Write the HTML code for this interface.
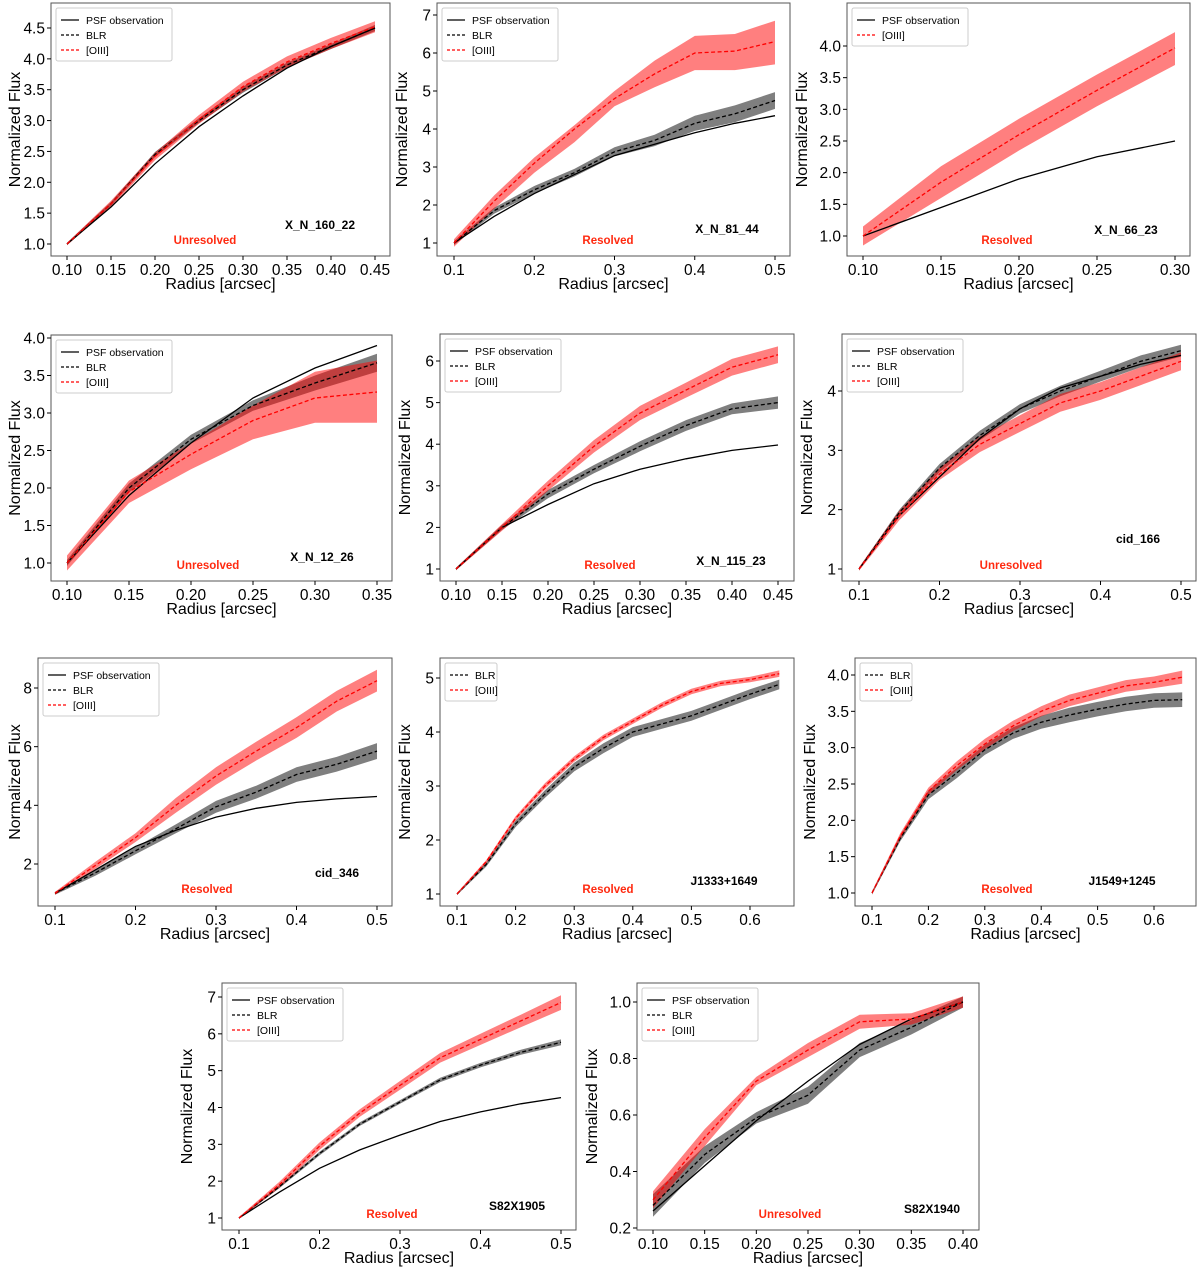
<!DOCTYPE html>
<html><head><meta charset="utf-8"><style>
html,body{margin:0;padding:0;background:#fff;}
svg{display:block;font-family:"Liberation Sans","DejaVu Sans",sans-serif;}
</style></head><body>
<svg id="fig" width="1200" height="1274" viewBox="0 0 1200 1274" xmlns="http://www.w3.org/2000/svg"></svg>
<script>
// ---------- data ----------
const p1x=[0.10,0.15,0.20,0.25,0.30,0.35,0.40,0.45];
const p1psf=[1,1.6,2.3,2.9,3.4,3.85,4.2,4.5];
const p1blr=[1,1.65,2.45,3.0,3.5,3.9,4.2,4.5];
const p1blrErr=[0.02,0.03,0.04,0.04,0.05,0.04,0.04,0.05];
const p1oiii=[1,1.65,2.42,3.02,3.55,3.95,4.25,4.52];
const p1oiiiErr=[0.02,0.05,0.06,0.07,0.08,0.09,0.09,0.09];

const p2x=[0.10,0.15,0.20,0.25,0.30,0.35,0.40,0.45,0.50];
const p2psf=[1,1.7,2.3,2.8,3.3,3.6,3.9,4.15,4.35];
const p2blr=[1,1.85,2.4,2.85,3.4,3.7,4.15,4.4,4.75];
const p2blrErr=[0.05,0.08,0.1,0.1,0.12,0.15,0.2,0.22,0.22];
const p2oiii=[1,2.1,3.1,4.0,4.8,5.45,6.0,6.05,6.3];
const p2oiiiLo=[0.9,1.9,2.85,3.65,4.6,5.1,5.55,5.55,5.7];
const p2oiiiHi=[1.1,2.25,3.25,4.1,5.0,5.8,6.45,6.5,6.85];

const p3x=[0.10,0.15,0.20,0.25,0.30];
const p3psf=[1,1.45,1.9,2.25,2.5];
const p3oiii=[1,1.85,2.6,3.3,3.97];
const p3oiiiLo=[0.85,1.6,2.35,3.05,3.7];
const p3oiiiHi=[1.15,2.1,2.85,3.55,4.22];

const p4x=[0.10,0.15,0.20,0.25,0.30,0.35];
const p4psf=[1,1.9,2.6,3.2,3.6,3.9];
const p4blr=[1,2.0,2.65,3.1,3.4,3.67];
const p4blrErr=[0.04,0.06,0.06,0.07,0.1,0.12];
const p4oiii=[1,1.95,2.45,2.9,3.2,3.28];
const p4oiiiLo=[0.9,1.8,2.25,2.65,2.87,2.87];
const p4oiiiHi=[1.1,2.1,2.6,3.1,3.55,3.7];

const p5x=[0.10,0.15,0.20,0.25,0.30,0.35,0.40,0.45];
const p5psf=[1,2.0,2.55,3.05,3.4,3.65,3.85,3.98];
const p5blr=[1,2.0,2.8,3.4,3.95,4.45,4.85,5.0];
const p5blrErr=[0.03,0.06,0.1,0.1,0.12,0.13,0.13,0.15];
const p5oiii=[1,2.0,3.0,3.95,4.75,5.3,5.85,6.15];
const p5oiiiErr=[0.03,0.08,0.12,0.15,0.17,0.18,0.2,0.2];

const p6x=[0.10,0.15,0.20,0.25,0.30,0.35,0.40,0.45,0.50];
const p6psf=[1,1.9,2.55,3.2,3.7,4.05,4.25,4.45,4.6];
const p6blr=[1,1.95,2.7,3.25,3.7,4.0,4.25,4.5,4.68];
const p6blrErr=[0.02,0.05,0.07,0.08,0.08,0.09,0.09,0.1,0.1];
const p6oiii=[1,1.9,2.6,3.1,3.45,3.8,4.0,4.25,4.5];
const p6oiiiErr=[0.03,0.08,0.1,0.13,0.14,0.15,0.15,0.15,0.15];

const p7x=[0.10,0.15,0.20,0.25,0.30,0.35,0.40,0.45,0.50];
const p7psf=[1,1.8,2.6,3.15,3.6,3.9,4.1,4.22,4.3];
const p7blr=[1,1.7,2.45,3.2,3.95,4.45,5.05,5.4,5.85];
const p7blrErr=[0.05,0.1,0.12,0.15,0.2,0.22,0.25,0.25,0.27];
const p7oiii=[1,1.95,2.9,4.0,5.0,5.85,6.65,7.55,8.25];
const p7oiiiErr=[0.05,0.12,0.15,0.25,0.3,0.32,0.35,0.35,0.37];

const p8x=[0.10,0.15,0.20,0.25,0.30,0.35,0.40,0.45,0.50,0.55,0.60,0.65];
const p8blr=[1,1.55,2.3,2.85,3.35,3.7,4.0,4.15,4.3,4.5,4.7,4.88];
const p8blrErr=[0.02,0.04,0.06,0.07,0.08,0.09,0.09,0.09,0.09,0.09,0.09,0.09];
const p8oiii=[1,1.6,2.4,3.0,3.5,3.9,4.2,4.5,4.75,4.9,4.97,5.08];
const p8oiiiErr=[0.02,0.03,0.04,0.05,0.05,0.05,0.05,0.05,0.05,0.05,0.05,0.06];

const p9x=[0.10,0.15,0.20,0.25,0.30,0.35,0.40,0.45,0.50,0.55,0.60,0.65];
const p9blr=[1,1.75,2.35,2.65,2.97,3.2,3.35,3.45,3.53,3.6,3.65,3.66];
const p9blrErr=[0.02,0.04,0.06,0.07,0.07,0.08,0.09,0.1,0.1,0.1,0.1,0.1];
const p9oiii=[1,1.78,2.4,2.75,3.05,3.3,3.5,3.65,3.75,3.85,3.9,3.97];
const p9oiiiErr=[0.02,0.04,0.05,0.06,0.07,0.07,0.07,0.08,0.08,0.08,0.08,0.09];

const p10x=[0.10,0.15,0.20,0.25,0.30,0.35,0.40,0.45,0.50];
const p10psf=[1,1.7,2.35,2.85,3.25,3.62,3.88,4.1,4.27];
const p10blr=[1,1.85,2.75,3.55,4.15,4.75,5.15,5.5,5.77];
const p10blrErr=[0.02,0.04,0.05,0.05,0.05,0.06,0.06,0.07,0.08];
const p10oiii=[1,1.9,2.95,3.85,4.6,5.35,5.85,6.35,6.85];
const p10oiiiErr=[0.03,0.08,0.1,0.1,0.12,0.13,0.15,0.17,0.2];

const p11x=[0.10,0.15,0.20,0.25,0.30,0.35,0.40];
const p11psf=[0.26,0.42,0.58,0.72,0.85,0.94,1.0];
const p11blr=[0.28,0.46,0.59,0.67,0.83,0.91,1.0];
const p11blrErr=[0.04,0.03,0.02,0.03,0.025,0.025,0.02];
const p11oiii=[0.3,0.52,0.72,0.83,0.93,0.94,1.0];
const p11oiiiErr=[0.03,0.03,0.015,0.025,0.025,0.02,0.02];

// tick labels
const t1x=["0.10","0.15","0.20","0.25","0.30","0.35","0.40","0.45"], t1y=["1.0","1.5","2.0","2.5","3.0","3.5","4.0","4.5"];
const t2x=["0.1","0.2","0.3","0.4","0.5"], t2y=["1","2","3","4","5","6","7"];
const t3x=["0.10","0.15","0.20","0.25","0.30"], t3y=["1.0","1.5","2.0","2.5","3.0","3.5","4.0"];
const t4x=["0.10","0.15","0.20","0.25","0.30","0.35"], t4y=["1.0","1.5","2.0","2.5","3.0","3.5","4.0"];
const t5x=["0.10","0.15","0.20","0.25","0.30","0.35","0.40","0.45"], t5y=["1","2","3","4","5","6"];
const t6x=["0.1","0.2","0.3","0.4","0.5"], t6y=["1","2","3","4"];
const t7x=["0.1","0.2","0.3","0.4","0.5"], t7y=["2","4","6","8"];
const t8x=["0.1","0.2","0.3","0.4","0.5","0.6"], t8y=["1","2","3","4","5"];
const t9x=["0.1","0.2","0.3","0.4","0.5","0.6"], t9y=["1.0","1.5","2.0","2.5","3.0","3.5","4.0"];
const t10x=["0.1","0.2","0.3","0.4","0.5"], t10y=["1","2","3","4","5","6","7"];
const t11x=["0.10","0.15","0.20","0.25","0.30","0.35","0.40"], t11y=["0.2","0.4","0.6","0.8","1.0"];

const NS="http://www.w3.org/2000/svg";
const svg=document.getElementById('fig');
function mk(tag,parent){const e=document.createElementNS(NS,tag);parent.appendChild(e);return e;}

function lo(v,e){return v.map((a,i)=>a-e[i]);}
function hi(v,e){return v.map((a,i)=>a+e[i]);}

const panels=[
 {id:1,box:[51,3,390,256],xa:[0.10,67,0.45,375],ya:[1,244,4.5,28],xs:p1x,psf:p1psf,blr:p1blr,blrLo:lo(p1blr,p1blrErr),blrHi:hi(p1blr,p1blrErr),o:p1oiii,oLo:lo(p1oiii,p1oiiiErr),oHi:hi(p1oiii,p1oiiiErr),tx:t1x,ty:t1y,name:"X_N_160_22",nm:[320,229],st:"Unresolved",sp:[205,244]},
 {id:2,box:[437,3,790,256],xa:[0.1,454,0.5,775],ya:[1,243,7,15],xs:p2x,psf:p2psf,blr:p2blr,blrLo:lo(p2blr,p2blrErr),blrHi:hi(p2blr,p2blrErr),o:p2oiii,oLo:p2oiiiLo,oHi:p2oiiiHi,tx:t2x,ty:t2y,name:"X_N_81_44",nm:[727,233],st:"Resolved",sp:[608,244]},
 {id:3,box:[847,3,1190,256],xa:[0.10,863,0.30,1175],ya:[1,236,4,46],xs:p3x,psf:p3psf,o:p3oiii,oLo:p3oiiiLo,oHi:p3oiiiHi,tx:t3x,ty:t3y,name:"X_N_66_23",nm:[1126,234],st:"Resolved",sp:[1007,244]},
 {id:4,box:[51,335,392,581],xa:[0.10,67,0.35,377],ya:[1,563,4,338],xs:p4x,psf:p4psf,blr:p4blr,blrLo:lo(p4blr,p4blrErr),blrHi:hi(p4blr,p4blrErr),o:p4oiii,oLo:p4oiiiLo,oHi:p4oiiiHi,tx:t4x,ty:t4y,name:"X_N_12_26",nm:[322,561],st:"Unresolved",sp:[208,569]},
 {id:5,box:[440,334,794,581],xa:[0.10,456,0.45,778],ya:[1,569,6,361],xs:p5x,psf:p5psf,blr:p5blr,blrLo:lo(p5blr,p5blrErr),blrHi:hi(p5blr,p5blrErr),o:p5oiii,oLo:lo(p5oiii,p5oiiiErr),oHi:hi(p5oiii,p5oiiiErr),tx:t5x,ty:t5y,name:"X_N_115_23",nm:[731,565],st:"Resolved",sp:[610,569]},
 {id:6,box:[842,334,1196,581],xa:[0.1,859,0.5,1181],ya:[1,569,4,391],xs:p6x,psf:p6psf,blr:p6blr,blrLo:lo(p6blr,p6blrErr),blrHi:hi(p6blr,p6blrErr),o:p6oiii,oLo:lo(p6oiii,p6oiiiErr),oHi:hi(p6oiii,p6oiiiErr),tx:t6x,ty:t6y,name:"cid_166",nm:[1138,543],st:"Unresolved",sp:[1011,569]},
 {id:7,box:[38,658,392,906],xa:[0.1,55,0.5,377],ya:[2,864,8,688],xs:p7x,psf:p7psf,blr:p7blr,blrLo:lo(p7blr,p7blrErr),blrHi:hi(p7blr,p7blrErr),o:p7oiii,oLo:lo(p7oiii,p7oiiiErr),oHi:hi(p7oiii,p7oiiiErr),tx:t7x,ty:t7y,name:"cid_346",nm:[337,877],st:"Resolved",sp:[207,893]},
 {id:8,box:[440,658,794,906],xa:[0.1,457,0.6,750],ya:[1,894,5,678],xs:p8x,blr:p8blr,blrLo:lo(p8blr,p8blrErr),blrHi:hi(p8blr,p8blrErr),o:p8oiii,oLo:lo(p8oiii,p8oiiiErr),oHi:hi(p8oiii,p8oiiiErr),tx:t8x,ty:t8y,name:"J1333+1649",nm:[724,885],st:"Resolved",sp:[608,893]},
 {id:9,box:[855,658,1196,906],xa:[0.1,872,0.6,1154],ya:[1,893,4,675],xs:p9x,blr:p9blr,blrLo:lo(p9blr,p9blrErr),blrHi:hi(p9blr,p9blrErr),o:p9oiii,oLo:lo(p9oiii,p9oiiiErr),oHi:hi(p9oiii,p9oiiiErr),tx:t9x,ty:t9y,name:"J1549+1245",nm:[1122,885],st:"Resolved",sp:[1007,893]},
 {id:10,box:[222,983,576,1230],xa:[0.1,239,0.5,561],ya:[1,1218,7,997],xs:p10x,psf:p10psf,blr:p10blr,blrLo:lo(p10blr,p10blrErr),blrHi:hi(p10blr,p10blrErr),o:p10oiii,oLo:lo(p10oiii,p10oiiiErr),oHi:hi(p10oiii,p10oiiiErr),tx:t10x,ty:t10y,name:"S82X1905",nm:[517,1210],st:"Resolved",sp:[392,1218]},
 {id:11,box:[637,983,979,1230],xa:[0.10,653,0.40,963],ya:[0.2,1228,1.0,1002],xs:p11x,psf:p11psf,blr:p11blr,blrLo:lo(p11blr,p11blrErr),blrHi:hi(p11blr,p11blrErr),o:p11oiii,oLo:lo(p11oiii,p11oiiiErr),oHi:hi(p11oiii,p11oiiiErr),tx:t11x,ty:t11y,name:"S82X1940",nm:[932,1213],st:"Unresolved",sp:[790,1218]}
];

panels.forEach(p=>{
  const g=mk('g',svg);
  
  
  const [L,T,R,B]=p.box;
  const X=v=>p.xa[1]+(v-p.xa[0])*(p.xa[3]-p.xa[1])/(p.xa[2]-p.xa[0]);
  const Y=v=>p.ya[1]+(v-p.ya[0])*(p.ya[3]-p.ya[1])/(p.ya[2]-p.ya[0]);
  const clipId='clip'+p.id;
  const cp=mk('clipPath',g);cp.setAttribute('id',clipId);
  const cr=mk('rect',cp);cr.setAttribute('x',L);cr.setAttribute('y',T);cr.setAttribute('width',R-L);cr.setAttribute('height',B-T);
  const plot=mk('g',g);plot.setAttribute('clip-path','url(#'+clipId+')');
  
  
  function band(loA,hiA,col,name){
    let d='M'+p.xs.map((x,i)=>X(x).toFixed(1)+','+Y(hiA[i]).toFixed(1)).join('L');
    d+='L'+p.xs.map((x,i)=>[X(x),Y(loA[i])]).reverse().map(a=>a[0].toFixed(1)+','+a[1].toFixed(1)).join('L')+'Z';
    const e=mk('path',plot);e.setAttribute('d',d);e.setAttribute('fill',col);e.setAttribute('fill-opacity','0.5');
    
    
  }
  function line(v,col,dash,name){
    const e=mk('polyline',plot);
    e.setAttribute('points',p.xs.map((x,i)=>X(x).toFixed(1)+','+Y(v[i]).toFixed(1)).join(' '));
    e.setAttribute('fill','none');e.setAttribute('stroke',col);e.setAttribute('stroke-width','1.3');
    if(dash)e.setAttribute('stroke-dasharray','4,2.5');
    
    
  }
  if(p.blr) band(p.blrLo,p.blrHi,'#000','blr-band');
  band(p.oLo,p.oHi,'#ff0000','oiii-band');
  if(p.psf) line(p.psf,'#000',false,'psf-line');
  if(p.blr) line(p.blr,'#000',true,'blr-line');
  line(p.o,'#ff0000',true,'oiii-line');
  const fr=mk('rect',g);fr.setAttribute('x',L);fr.setAttribute('y',T);fr.setAttribute('width',R-L);fr.setAttribute('height',B-T);
  fr.setAttribute('fill','none');fr.setAttribute('stroke','#555');fr.setAttribute('stroke-width','1');
  
  
  p.tx.forEach(t=>{const x=X(parseFloat(t));
    const l=mk('line',g);l.setAttribute('x1',x);l.setAttribute('x2',x);l.setAttribute('y1',B);l.setAttribute('y2',B+4);l.setAttribute('stroke','#000');
    const tt=mk('text',g);tt.setAttribute('x',x);tt.setAttribute('y',B+19);tt.setAttribute('text-anchor','middle');tt.setAttribute('font-size','15.5');tt.textContent=t;
    
    
  });
  p.ty.forEach(t=>{const y=Y(parseFloat(t));
    const l=mk('line',g);l.setAttribute('x1',L-4);l.setAttribute('x2',L);l.setAttribute('y1',y);l.setAttribute('y2',y);l.setAttribute('stroke','#000');
    const tt=mk('text',g);tt.setAttribute('x',L-6);tt.setAttribute('y',y+5.5);tt.setAttribute('text-anchor','end');tt.setAttribute('font-size','15.5');tt.textContent=t;
    
    
  });
  const xl=mk('text',g);xl.setAttribute('x',(L+R)/2);xl.setAttribute('y',B+33);xl.setAttribute('text-anchor','middle');xl.setAttribute('font-size','16');xl.textContent='Radius [arcsec]';
  
  
  const maxLen=Math.max(...p.ty.map(s=>s.length));
  const yx=Math.max(20,L-(maxLen>=3?40:30));
  const yl=mk('text',g);yl.setAttribute('transform','translate('+yx+','+((T+B)/2)+') rotate(-90)');yl.setAttribute('text-anchor','middle');yl.setAttribute('font-size','16');yl.textContent='Normalized Flux';
  
  
  const entries=[];
  if(p.psf)entries.push(['PSF observation','#000',false]);
  if(p.blr)entries.push(['BLR','#000',true]);
  entries.push(['[OIII]','#ff0000',true]);
  const lg=mk('g',g);
  
  
  const lr=mk('rect',lg);lr.setAttribute('x',L+5);lr.setAttribute('y',T+5);lr.setAttribute('width',p.psf?116:52);lr.setAttribute('height',8+entries.length*15);
  lr.setAttribute('fill','#fff');lr.setAttribute('stroke','#ccc');lr.setAttribute('rx','2');
  entries.forEach((e,i)=>{
    const y=T+17+i*15;
    const ll=mk('line',lg);ll.setAttribute('x1',L+10);ll.setAttribute('x2',L+28);ll.setAttribute('y1',y);ll.setAttribute('y2',y);ll.setAttribute('stroke',e[1]);ll.setAttribute('stroke-width','1.3');
    if(e[2])ll.setAttribute('stroke-dasharray','3,2');
    const tt=mk('text',lg);tt.setAttribute('x',L+35);tt.setAttribute('y',y+4);tt.setAttribute('font-size','10.5');tt.textContent=e[0];
    
    
  });
  const nm=mk('text',g);nm.setAttribute('x',p.nm[0]);nm.setAttribute('y',p.nm[1]);nm.setAttribute('text-anchor','middle');nm.setAttribute('font-size','12');nm.setAttribute('font-weight','bold');nm.textContent=p.name;
  
  
  const st=mk('text',g);st.setAttribute('x',p.sp[0]);st.setAttribute('y',p.sp[1]);st.setAttribute('text-anchor','middle');st.setAttribute('font-size','11.5');st.setAttribute('font-weight','bold');st.setAttribute('fill','#ff2a10');st.textContent=p.st;
  
  
});
</script>
</body></html>
